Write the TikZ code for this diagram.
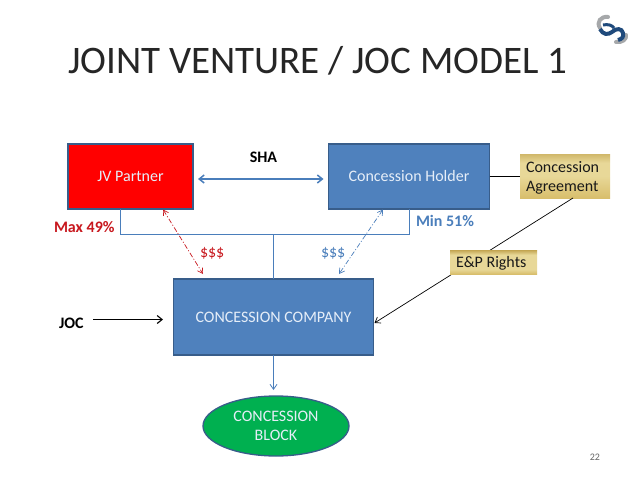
\documentclass[tikz,border=0pt]{standalone}
\usepackage{fontspec}
\setmainfont{Carlito}
\usetikzlibrary{arrows.meta,shapes.geometric}
\definecolor{bluefill}{HTML}{4F81BD}
\definecolor{blueedge}{HTML}{385D8A}
\definecolor{blueline}{HTML}{4A7EBB}
\definecolor{redtext}{HTML}{C8181E}
\definecolor{greenfill}{HTML}{00B050}
\definecolor{boxtext}{HTML}{E6EEF8}
\definecolor{goldA}{HTML}{F0E4B0}
\definecolor{goldB}{HTML}{D8BE6C}
\definecolor{goldC}{HTML}{B8963C}
\definecolor{goldD}{HTML}{E8D898}
\definecolor{navy}{HTML}{1F4A7C}
\definecolor{logogrey}{HTML}{A6A8AA}
% y axis is flipped in this picture: 0bp is the top of the box
\pgfdeclareverticalshading{agrshade}{100bp}{
 color(0bp)=(goldD); color(8bp)=(goldB); color(25bp)=(goldB); color(50bp)=(goldD);
 color(65bp)=(goldD); color(85bp)=(goldC); color(95bp)=(goldB); color(100bp)=(goldD)}
\pgfdeclareverticalshading{epshade}{100bp}{
 color(0bp)=(goldD); color(10bp)=(goldC); color(25bp)=(goldB); color(35bp)=(goldD);
 color(65bp)=(goldD); color(78bp)=(goldC); color(90bp)=(goldC); color(100bp)=(goldD)}
\tikzset{
 x=1pt,y=-1pt,
 every node/.style={inner sep=0pt,outer sep=0pt,font=\fontsize{16}{19}\selectfont},
 blockbox/.style={draw=blueedge,line width=1.3pt,fill=bluefill,text=boxtext,minimum width=#1},
 blockbox/.default=100pt,
 boldlabel/.style={font=\fontsize{16}{19}\selectfont\bfseries},
 bluelink/.style={draw=blueline,line width=0.8pt},
 openarrow/.style={-{Straight Barb[length=5pt,width=7pt]}},
}
\begin{document}
\begin{tikzpicture}
\useasboundingbox (0,0) rectangle (638,479);
\fill[white] (0,0) rectangle (638,479);
% title
\node[anchor=base west,font=\fontsize{39}{44}\selectfont,text=black!85] (title) at (68,73) {JOINT VENTURE / JOC MODEL 1};
% logo
\draw[line width=4pt,color=logogrey,line cap=round] (608,17) .. controls (601,16) and (596,22) .. (600,28);
\draw[line width=4pt,color=logogrey,line cap=round] (626,35) .. controls (627,39) and (622,43) .. (616,42);
\draw[line width=4pt,color=navy] (600,29) .. controls (603,35) and (608,35) .. (612,32) .. controls (616,28) and (622,28) .. (623,33) .. controls (624,37) and (622,39) .. (618,40);
\draw[line width=3pt,color=navy] (603,25) .. controls (608,24) and (612,25) .. (614,28);
% boxes
\node[draw=blueedge,line width=1.3pt,fill=red,text=boxtext,minimum width=125pt,minimum height=65pt] (jv) at (130.5,176.5) {JV Partner};
\node[blockbox=161pt,minimum height=65pt] (ch) at (409,176.5) {Concession Holder};
\node[blockbox=200pt,minimum height=76pt] (cc) at (273.5,317) {CONCESSION COMPANY};
\node[ellipse,draw=blueedge,line width=1.3pt,fill=greenfill,text=boxtext,minimum width=146pt,minimum height=60pt,align=center] (block) at (276,426) {CONCESSION\\BLOCK};
\node[shading=agrshade,minimum width=90pt,minimum height=44pt] (agr) at (565,176) {};
\node[anchor=base west,align=left,text=black!90] (agrtext) at (526,191) {Concession\\Agreement};
% connectors behind E&P
\coordinate (agrfoot) at (573,198);
\coordinate (ccin) at (374.5,323);
\draw[black,line width=0.7pt,-{Straight Barb[length=5pt,width=7pt]}] (agrfoot) -- (ccin);
\node[shading=epshade,minimum width=87pt,minimum height=24pt] (ep) at (493.5,262) {};
\node[anchor=base west,text=black!90] (eptext) at (456,267) {E\&P Rights};
\draw[black,line width=0.8pt] (ch.east |- agr.west) -- (agr.west);
% ownership tree
\coordinate (jvfoot) at (120,209);
\coordinate (chfoot) at (409.5,209);
\coordinate (jl) at (120,234.5);
\coordinate (jr) at (409.5,234.5);
\coordinate (jm) at (273.5,234.5);
\draw[bluelink] (jvfoot) -- (jl) -- (jr) -- (chfoot);
\draw[bluelink] (jm) -- (cc.north -| jm);
\draw[bluelink,openarrow] (cc.south) -- (273.5,390);
% SHA
\coordinate (shaL) at (198,179);
\coordinate (shaR) at (323.5,179);
\draw[blueline,line width=1.5pt,{Straight Barb[length=5pt,width=8pt]}-{Straight Barb[length=5pt,width=8pt]}] (shaL) -- (shaR);
% dollar flows
\coordinate (r1) at (163,209.5);
\coordinate (r2) at (203,274);
\coordinate (b1) at (383,209.5);
\coordinate (b2) at (339,274);
\draw[redtext,line width=0.7pt,dash pattern=on 5pt off 2pt on 1pt off 2pt,{Straight Barb[length=5pt,width=6pt]}-{Straight Barb[length=5pt,width=6pt]}] (r1) -- (r2);
\draw[blueline,line width=0.7pt,dash pattern=on 5pt off 2pt on 1pt off 2pt,{Straight Barb[length=5pt,width=6pt]}-{Straight Barb[length=5pt,width=6pt]}] (b1) -- (b2);
% JOC
\node[boldlabel,anchor=base west] (joc) at (59,328) {JOC};
\coordinate (jocL) at (93,319.5);
\coordinate (jocR) at (163,319.5);
\draw[black,line width=1.1pt,-{Straight Barb[length=5pt,width=8pt]}] (jocL) -- (jocR);
% labels
\node[boldlabel,anchor=base] (sha) at (263.5,162) {SHA};
\node[boldlabel,anchor=base west,text=redtext] (max) at (54,232) {Max 49\%};
\node[boldlabel,anchor=base west,text=blueline] (min) at (416,226) {Min 51\%};
\node[anchor=base west,text=redtext] (d1) at (200,257) {\$\$\$};
\node[anchor=base west,text=blueline] (d2) at (321,257) {\$\$\$};
\node[anchor=base east,text=black!60,font=\fontsize{10}{12}\selectfont] (num) at (600,460) {22};
\end{tikzpicture}
\end{document}
